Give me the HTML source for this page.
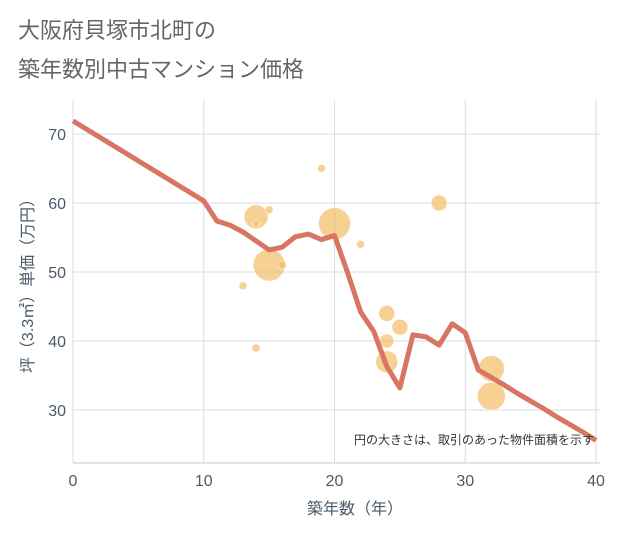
<!DOCTYPE html>
<html><head><meta charset="utf-8"><style>
body{margin:0;background:#fff;font-family:"Liberation Sans","Noto Sans CJK JP",sans-serif}
</style></head><body>
<svg width="621" height="530" xmlns="http://www.w3.org/2000/svg" style="font-family:'Liberation Sans','Noto Sans CJK JP',sans-serif">
<rect width="621" height="530" fill="#fff"/>
<text x="18" y="38" font-size="22" fill="#666">大阪府貝塚市北町の</text>
<text x="18" y="77" font-size="22" fill="#666">築年数別中古マンション価格</text>
<g id="grid"></g>
<g id="bubbles"></g>
<g id="line"></g>
<g id="axes"></g>
<text x="594" y="444" font-size="12" fill="#333" text-anchor="end">円の大きさは、取引のあった物件面積を示す</text>
<text x="355" y="514" font-size="16" fill="#4a5a6a" text-anchor="middle">築年数（年）</text>
<text transform="translate(33,282) rotate(-90)" font-size="16" fill="#4a5a6a" text-anchor="middle">坪（3.3㎡）単価（万円）</text>
</svg>
<script>
const xTicks=[0,10,20,30,40];
const yTicks=[30,40,50,60,70];
const lineX=[0,10,11,12,13,14,15,16,17,18,19,20,21,22,23,24,25,26,27,28,29,30,31,32,33,34,35,36,37,38,39,40];
const lineY=[71.9,60.3,57.4,56.8,55.8,54.5,53.2,53.6,55.1,55.5,54.7,55.3,49.9,44.2,41.4,36.3,33.2,40.9,40.6,39.4,42.5,41.2,35.8,34.7,33.6,32.4,31.3,30.2,29.0,27.9,26.8,25.6];
const bubX=[14,14,15,19,15,16,13,14,20,22,28,24,25,24,24,32,32];
const bubY=[58,57,59,65,51,51,48,39,57,54,60,44,42,40,37,36,32];
const bubR=[12,3,4,4,16,4,4,4,16,4,8,8,8,7,11,13,14];
const NS="http://www.w3.org/2000/svg";
const X=v=>73+v*13.075, Y=v=>203-(v-60)*6.9;
function mk(t,a,p){const e=document.createElementNS(NS,t);for(const k in a)e.setAttribute(k,a[k]);document.getElementById(p).appendChild(e);return e;}
const plotTop=100,plotBot=463,plotLeft=73,plotRight=600;
xTicks.forEach(t=>{const e=mk('line',{x1:X(t),x2:X(t),y1:plotTop,y2:plotBot,stroke:'#d5dde8','stroke-width':1},'grid');


const l=mk('text',{x:X(t),y:486,'font-size':16,fill:'#4a5a6a','text-anchor':'middle'},'axes');l.textContent=t;

});
yTicks.forEach(t=>{const e=mk('line',{x1:plotLeft,x2:plotRight,y1:Y(t),y2:Y(t),stroke:'#d5dde8','stroke-width':1},'grid');


const l=mk('text',{x:66,y:Y(t)+6,'font-size':16,fill:'#4a5a6a','text-anchor':'end'},'axes');l.textContent=t;

});
const ax=mk('line',{x1:plotLeft,x2:plotRight,y1:plotBot,y2:plotBot,stroke:'#c0c8d0','stroke-width':1},'axes');


bubX.forEach((v,i)=>{const c=mk('circle',{cx:X(v),cy:Y(bubY[i]),r:bubR[i],fill:'#f2b85a','fill-opacity':0.65,stroke:'#fff','stroke-opacity':0.5},'bubbles');

});
const p=mk('polyline',{points:lineX.map((v,i)=>X(v)+','+Y(lineY[i])).join(' '),fill:'none',stroke:'#d87563','stroke-width':5,'stroke-linejoin':'round'},'line');


</script>
</body></html>
